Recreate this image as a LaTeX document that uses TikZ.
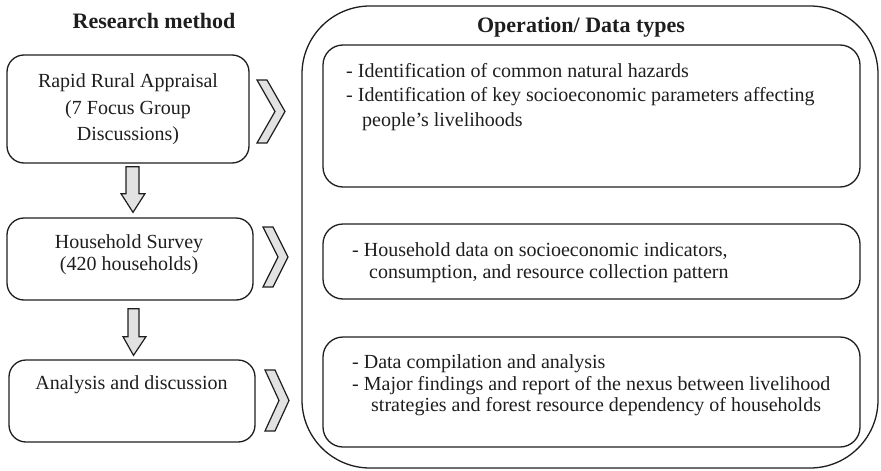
\documentclass[tikz,border=0pt]{standalone}
\usepackage{fontspec}
\setmainfont{Liberation Serif}
\usetikzlibrary{calc}
\definecolor{ink}{HTML}{1E1E1E}
\definecolor{chevfill}{HTML}{E2E2E2}
\begin{document}
\begin{tikzpicture}[x=1pt,y=-1pt,
  box/.style={draw=ink,line width=1.3pt,rounded corners=17pt,inner sep=0pt},
  rbox/.style={draw=ink,line width=1.3pt,rounded corners=20pt,inner sep=0pt},
  frame/.style={draw=ink,line width=1.3pt,rounded corners=68pt,inner sep=0pt},
  body/.style={font=\fontsize{20}{24}\selectfont,inner sep=0pt,text=ink},
  lft/.style={body,anchor=base west},
  ctr/.style={body,anchor=base},
  heading/.style={font=\fontsize{22}{26}\selectfont\bfseries,inner sep=0pt,anchor=base,text=ink},
  chevron/.style={draw=ink,fill=chevfill,line width=1.2pt,line join=miter},
  blockarrow/.style={draw=ink,fill=chevfill,line width=1.2pt,line join=miter}]
\useasboundingbox (0,0) rectangle (881,471);

% headings
\node[heading] (hleft) at (154,28) {Research method};
\node[heading] (hright) at (581,32) {Operation/ Data types};

% outer frame around the operations column
\node[frame,minimum width=576pt,minimum height=462pt] (frame) at (590,237) {};

% method boxes
\node[box,minimum width=242pt,minimum height=108pt] (b1) at (128,109) {};
\node[box,minimum width=246pt,minimum height=82pt] (b2) at (130,259) {};
\node[box,minimum width=246pt,minimum height=82pt] (b3) at (132,401) {};

\node[ctr] (b1a) at (128,87) {Rapid Rural Appraisal};
\node[ctr] (b1b) at (128,114) {(7 Focus Group};
\node[ctr] (b1c) at (128,140) {Discussions)};
\node[ctr] (b2a) at (129,248) {Household Survey};
\node[ctr] (b2b) at (129,270) {(420 households)};
\node[ctr] (b3a) at (131.5,389) {Analysis and discussion};

% operation / data boxes
\node[rbox,minimum width=537pt,minimum height=142pt] (r1) at (591.5,116) {};
\node[rbox,minimum width=537pt,minimum height=75pt] (r2) at (591.5,261.5) {};
\node[rbox,minimum width=537pt,minimum height=110pt] (r3) at (591.5,392) {};

\node[lft] (r1a) at (346,77.5) {- Identification of common natural hazards};
\node[lft] (r1b) at (346,101.5) {- Identification of key socioeconomic parameters affecting};
\node[lft] (r1c) at (362,126) {people’s livelihoods};
\node[lft] (r2a) at (352,256.5) {- Household data on socioeconomic indicators,};
\node[lft] (r2b) at (369,278) {consumption, and resource collection pattern};
\node[lft] (r3a) at (352,368) {- Data compilation and analysis};
\node[lft] (r3b) at (352,390) {- Major findings and report of the nexus between livelihood};
\node[lft] (r3c) at (371,411.5) {strategies and forest resource dependency of households};

% block arrows between the method steps
\draw[blockarrow] ($(b1.south)+(-2,3)$) -- ($(b1.south)+(-2,30)$) -- ($(b1.south)+(-7,30)$)
  -- ($(b2.north)+(3,-5)$) -- ($(b1.south)+(17,30)$) -- ($(b1.south)+(11,30)$)
  -- ($(b1.south)+(11,3)$) -- cycle;
\draw[blockarrow] ($(b2.south)+(-2,8)$) -- ($(b2.south)+(-2,36)$) -- ($(b2.south)+(-7,36)$)
  -- ($(b3.north)+(1.5,-4)$) -- ($(b2.south)+(16,36)$) -- ($(b2.south)+(9,36)$)
  -- ($(b2.south)+(9,8)$) -- cycle;

% chevrons pointing from each method to its operations
\draw[chevron] (257,80) -- (267,80) -- (285,111.5) -- (267,143) -- (257,143) -- (275,111.5) -- cycle;
\draw[chevron] (263,227) -- (273,227) -- (288,257) -- (273,287) -- (263,287) -- (278,257) -- cycle;
\draw[chevron] (265,370) -- (275,370) -- (289,400.5) -- (275,431) -- (265,431) -- (279,400.5) -- cycle;
\end{tikzpicture}
\end{document}
